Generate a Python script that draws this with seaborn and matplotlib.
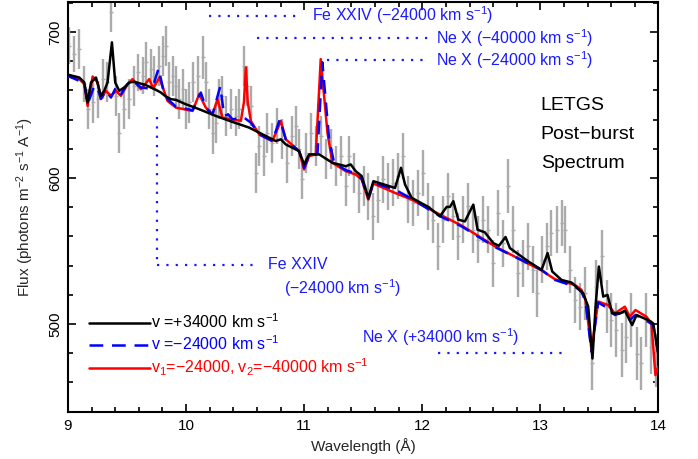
import matplotlib
matplotlib.use("Agg")
import matplotlib.pyplot as plt
import seaborn as sns
import pandas as pd

# Observed LETGS spectrum: bin centres, flux and 1-sigma errors
wave_obs = [9.011, 9.054, 9.096, 9.138, 9.166, 9.209, 9.251, 9.293, 9.327, 9.364,
            9.406, 9.434, 9.476, 9.519, 9.561, 9.589, 9.632, 9.660, 9.702, 9.730,
            9.773, 9.801, 9.829, 9.857, 9.885, 9.914, 9.942, 9.970, 9.998, 10.026,
            10.055, 10.097, 10.139, 10.167, 10.196, 10.224, 10.252, 10.280, 10.308, 10.337,
            10.379, 10.421, 10.449, 10.492, 10.520, 10.548, 10.590, 10.619, 10.661, 10.689,
            10.731, 10.774, 10.816, 10.858, 10.901, 10.929, 10.957, 10.985, 11.013, 11.056,
            11.098, 11.140, 11.183, 11.225, 11.267, 11.310, 11.352, 11.380, 11.422, 11.465,
            11.507, 11.543, 11.586, 11.628, 11.670, 11.713, 11.755, 11.797, 11.840, 11.882,
            11.924, 11.966, 12.009, 12.051, 12.093, 12.136, 12.178, 12.220, 12.263, 12.305,
            12.347, 12.389, 12.432, 12.474, 12.516, 12.559, 12.601, 12.643, 12.686, 12.728,
            12.770, 12.812, 12.855, 12.897, 12.939, 12.968, 13.010, 13.052, 13.094, 13.137,
            13.179, 13.207, 13.250, 13.292, 13.334, 13.376, 13.433, 13.475, 13.518, 13.560,
            13.602, 13.644, 13.687, 13.729, 13.771, 13.814, 13.856, 13.898, 13.940, 13.983]
flux_obs = [690.6, 684.9, 688.3, 664.3, 647.1, 651.7, 654.0, 667.7, 665.4, 713.5,
            656.3, 631.0, 647.1, 654.0, 663.1, 672.3, 670.0, 679.2, 674.6, 670.0,
            676.9, 683.7, 690.6, 665.4, 670.0, 663.1, 654.0, 660.8, 647.1, 651.7,
            665.4, 670.0, 682.6, 665.4, 647.1, 631.0, 637.9, 654.0, 656.3, 642.5,
            647.1, 642.5, 647.1, 676.9, 663.1, 649.4, 603.6, 621.9, 615.0, 631.0,
            624.2, 635.6, 626.5, 610.4, 628.8, 635.6, 619.6, 599.0, 617.3, 631.0,
            621.9, 628.8, 612.7, 619.6, 608.1, 615.0, 594.4, 615.0, 603.6, 589.8,
            594.4, 587.5, 573.8, 585.2, 599.0, 594.4, 596.7, 601.3, 615.0, 585.2,
            582.9, 589.8, 603.5, 580.6, 571.5, 553.1, 571.5, 587.5, 573.8, 560.0,
            571.5, 580.6, 564.6, 557.7, 571.5, 564.6, 541.7, 576.1, 555.4, 594.4,
            564.6, 534.8, 541.7, 553.2, 537.1, 521.1, 544.0, 553.2, 562.3, 564.6,
            569.2, 564.6, 537.1, 516.5, 511.9, 521.1, 473.0, 525.7, 546.3, 511.9,
            502.7, 495.9, 482.1, 491.3, 502.7, 479.8, 473.0, 502.7, 484.4, 475.2]
err_obs = [12.6, 12.6, 13.7, 12.6, 13.7, 13.7, 12.6, 13.7, 13.7, 13.7,
           13.7, 13.7, 13.7, 13.7, 13.7, 12.6, 12.6, 13.7, 13.7, 13.7,
           13.7, 13.7, 13.7, 13.7, 13.7, 13.7, 13.7, 13.7, 13.7, 13.7,
           13.7, 13.7, 14.5, 13.7, 13.7, 14.5, 13.7, 13.7, 13.7, 13.7,
           13.7, 13.7, 13.7, 13.7, 13.7, 13.7, 13.7, 13.7, 13.7, 13.7,
           13.7, 12.6, 13.7, 13.7, 13.7, 13.7, 13.7, 13.7, 13.7, 13.7,
           13.7, 13.7, 13.7, 13.7, 13.7, 13.7, 13.7, 13.7, 13.7, 13.7,
           13.7, 16.0, 16.0, 16.0, 16.0, 16.0, 16.0, 16.0, 16.0, 16.0,
           16.0, 16.0, 16.0, 16.0, 16.0, 16.0, 16.0, 16.0, 16.0, 16.0,
           16.0, 16.0, 16.0, 16.0, 16.0, 16.0, 16.0, 16.0, 16.0, 18.3,
           16.0, 16.0, 16.0, 16.0, 16.0, 16.0, 16.0, 16.0, 16.0, 16.0,
           16.0, 16.0, 16.0, 16.0, 16.0, 18.3, 18.3, 18.3, 18.3, 18.3,
           18.3, 18.3, 18.3, 18.3, 18.3, 18.3, 18.3, 18.3, 18.3, 18.3]

# Model: single outflow v = +34000 km/s
wave_pos = [8.983, 9.096, 9.138, 9.166, 9.195, 9.237, 9.279, 9.307, 9.335, 9.372,
            9.400, 9.434, 9.476, 9.519, 9.561, 9.660, 9.744, 9.787, 9.829, 9.871,
            9.914, 9.998, 10.111, 10.252, 10.393, 10.534, 10.647, 10.760, 10.802, 10.844,
            10.957, 10.999, 11.042, 11.126, 11.239, 11.352, 11.394, 11.436, 11.487, 11.543,
            11.586, 11.769, 11.820, 11.854, 11.910, 12.051, 12.150, 12.206, 12.234, 12.263,
            12.305, 12.361, 12.432, 12.468, 12.530, 12.601, 12.649, 12.705, 12.742, 12.897,
            13.010, 13.061, 13.100, 13.179, 13.264, 13.362, 13.405, 13.441, 13.467, 13.495,
            13.532, 13.568, 13.608, 13.673, 13.715, 13.777, 13.814, 13.912, 13.955, 13.997]
flux_pos = [671.1, 668.8, 665.4, 651.7, 665.4, 668.8, 656.3, 659.7, 665.4, 692.9,
            665.4, 659.7, 662.0, 665.4, 665.9, 663.6, 660.4, 658.5, 655.8, 654.0,
            653.5, 650.5, 647.1, 642.5, 638.4, 634.5, 629.9, 625.3, 626.5, 623.0,
            618.4, 609.3, 616.2, 616.2, 610.4, 608.1, 609.3, 604.7, 601.3, 586.4,
            597.8, 593.2, 607.0, 595.5, 586.4, 580.2, 573.8, 580.2, 580.2, 584.1,
            571.5, 570.3, 581.8, 564.6, 562.8, 555.4, 553.6, 559.6, 552.0, 542.9,
            537.1, 548.6, 536.0, 530.2, 528.4, 521.1, 511.9, 476.4, 511.9, 539.4,
            518.8, 520.0, 507.3, 507.3, 509.2, 499.3, 506.2, 502.7, 500.5, 479.8]

# Model: single outflow v = -24000 km/s
wave_neg = [8.983, 9.138, 9.166, 9.223, 9.251, 9.279, 9.321, 9.364, 9.406, 9.448,
            9.505, 9.547, 9.618, 9.688, 9.730, 9.767, 9.806, 9.843, 9.914, 10.055,
            10.125, 10.167, 10.224, 10.289, 10.323, 10.356, 10.393, 10.492, 10.548, 10.619,
            10.731, 10.794, 10.844, 10.957, 10.999, 11.042, 11.112, 11.154, 11.211, 11.253,
            11.352, 11.436, 11.487, 11.543, 11.586, 11.769, 11.910, 12.150, 12.333, 12.615,
            13.010, 13.123, 13.292, 13.348, 13.382, 13.433, 13.489, 13.574, 13.630, 13.715,
            13.757, 13.805, 13.912, 13.955, 13.997]
flux_neg = [670.5, 665.0, 650.5, 663.1, 661.3, 654.4, 659.7, 655.1, 662.0, 657.4,
            664.3, 666.6, 662.0, 661.3, 665.4, 675.0, 660.8, 654.0, 648.9, 646.4,
            658.5, 648.2, 643.6, 662.7, 642.5, 643.6, 640.2, 641.3, 637.9, 629.9,
            625.3, 640.2, 626.5, 618.4, 607.0, 615.5, 616.2, 679.2, 626.5, 610.4,
            605.4, 603.1, 599.4, 585.7, 596.7, 592.1, 585.7, 573.8, 566.9, 552.7,
            537.1, 530.2, 525.7, 522.2, 515.4, 481.0, 514.7, 510.8, 506.2, 508.5,
            502.7, 506.2, 501.6, 499.3, 481.0]

# Model: two outflow components v1 = -24000, v2 = -40000 km/s
wave_two = [8.983, 9.096, 9.138, 9.166, 9.209, 9.251, 9.279, 9.321, 9.364, 9.406,
            9.448, 9.505, 9.547, 9.618, 9.688, 9.722, 9.773, 9.843, 9.914, 10.055,
            10.111, 10.167, 10.224, 10.266, 10.308, 10.393, 10.464, 10.490, 10.506, 10.522,
            10.548, 10.619, 10.731, 10.802, 10.844, 10.957, 10.999, 11.042, 11.098, 11.140,
            11.197, 11.239, 11.352, 11.436, 11.487, 11.543, 11.586, 11.769, 11.910, 12.150,
            12.333, 12.615, 13.010, 13.123, 13.292, 13.348, 13.382, 13.433, 13.489, 13.574,
            13.630, 13.715, 13.757, 13.805, 13.898, 13.940, 13.974, 13.997]
flux_two = [670.0, 667.7, 664.3, 649.4, 669.5, 665.4, 654.0, 659.7, 656.3, 659.7,
            656.3, 664.3, 667.7, 660.8, 667.7, 661.3, 668.8, 652.8, 648.2, 645.9,
            657.4, 648.2, 643.6, 654.0, 641.3, 640.2, 639.1, 652.0, 675.7, 652.0,
            639.1, 629.9, 625.3, 639.1, 626.5, 618.4, 605.8, 615.0, 616.2, 681.4,
            631.0, 610.4, 604.7, 602.4, 599.0, 585.2, 596.2, 589.8, 585.2, 574.9,
            567.4, 553.2, 536.7, 530.7, 526.8, 523.4, 516.5, 482.1, 515.4, 513.0,
            507.3, 511.9, 505.0, 509.6, 505.0, 500.5, 465.0, 470.7]

x_ticks = [9, 10, 11, 12, 13, 14]
y_ticks = [500, 600, 700]

sns.set_theme(style="ticks")
plt.rcParams["font.family"] = ["Liberation Sans", "DejaVu Sans"]
plt.rcParams["mathtext.default"] = "regular"

fig = plt.figure(figsize=(6.98, 4.59), dpi=100)
ax = fig.add_axes([0.0974, 0.1031, 0.8460, 0.8925])

# observed data with error bars
ax.errorbar(wave_obs, flux_obs, yerr=err_obs, fmt="_", color="#ababab",
            ecolor="#ababab", elinewidth=1.7, markersize=3, capsize=0, zorder=1)

df_two = pd.DataFrame({"wave": wave_two, "flux": flux_two})
df_neg = pd.DataFrame({"wave": wave_neg, "flux": flux_neg})
df_pos = pd.DataFrame({"wave": wave_pos, "flux": flux_pos})

sns.lineplot(data=df_two, x="wave", y="flux", ax=ax, color="#ff0000", lw=1.8,
             estimator=None, sort=False, zorder=3)
h_two = ax.lines[-1]
sns.lineplot(data=df_neg, x="wave", y="flux", ax=ax, color="#0000ff", lw=1.8,
             linestyle=(0, (5.5, 3.5)), estimator=None, sort=False, zorder=4)
h_neg = ax.lines[-1]
sns.lineplot(data=df_pos, x="wave", y="flux", ax=ax, color="black", lw=1.8,
             estimator=None, sort=False, zorder=5)
h_pos = ax.lines[-1]

ax.set_xlim(9, 14)
ax.set_ylim(440, 720.5)
ax.set_xticks(x_ticks)
ax.set_xticks([9 + 0.2 * i for i in range(26)], minor=True)
ax.set_yticks(y_ticks)
ax.set_yticks(list(range(440, 721, 20)), minor=True)
ax.set_xticklabels([str(t) for t in x_ticks])
ax.set_yticklabels([str(t) for t in y_ticks], rotation=90, va="center")

ax.tick_params(which="both", direction="in", top=True, right=True, width=1.2,
               colors="black", labelsize=11)
ax.tick_params(which="major", length=6)
ax.tick_params(which="minor", length=3.5)
ax.tick_params(axis="x", pad=5)
ax.tick_params(axis="y", pad=4)
for s in ax.spines.values():
    s.set_linewidth(1.5)
    s.set_color("black")

ax.set_xlabel("Wavelength (Å)", fontsize=11, labelpad=4)
ax.set_ylabel("Flux (photons m$^{-2}$ s$^{-1}$ A$^{-1}$)", fontsize=11, labelpad=9)

# line identifications
blue = "#1a1aff"
dot = dict(color=blue, lw=1.6, linestyle=(0, (1, 3.2)), zorder=2)
ax.plot([10.19, 10.96], [711.2, 711.2], **dot)
ax.plot([10.60, 12.06], [695.9, 695.9], **dot)
ax.plot([11.19, 12.06], [680.8, 680.8], **dot)
ax.plot([9.753, 9.753], [641.6, 540.5], **dot)
ax.plot([9.753, 10.60], [540.5, 540.5], **dot)
ax.plot([12.13, 13.205], [480.0, 480.0], **dot)

tf = dict(color=blue, fontsize=11.5, va="center", ha="left")
ax.text(11.064, 711.2, "Fe XXIV (−24000 km s$^{-1}$)", **tf)
ax.text(12.113, 695.9, "Ne X (−40000 km s$^{-1}$)", **tf)
ax.text(12.113, 680.8, "Ne X (−24000 km s$^{-1}$)", **tf)
ax.text(10.692, 540.5, "Fe XXIV", **tf)
ax.text(10.827, 524.7, "(−24000 km s$^{-1}$)", **tf)
ax.text(11.487, 491.1, "Ne X (+34000 km s$^{-1}$)", **tf)

for yy, s in zip([0.7486, 0.6778, 0.6070], ["LETGS", "Post−burst", "Spectrum"]):
    ax.text(0.8005, yy, s, transform=ax.transAxes, fontsize=14,
            color="black", va="center", ha="left")

ax.legend([h_pos, h_neg, h_two],
          ["v =+34000 km s$^{-1}$", "v =−24000 km s$^{-1}$",
           "v$_1$=−24000, v$_2$=−40000 km s$^{-1}$"],
          loc="upper left", bbox_to_anchor=(0.025, 0.257), frameon=False,
          fontsize=11.5, handlelength=3.8, handletextpad=0.1,
          labelspacing=0.2, labelcolor="linecolor", borderaxespad=0)

fig.savefig("out.png", dpi=100)
